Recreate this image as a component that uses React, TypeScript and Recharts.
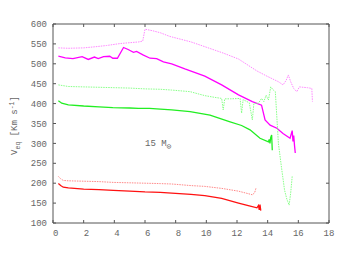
import React from 'react';
import { LineChart, Line, XAxis, YAxis, ReferenceDot } from 'recharts';

// Magenta, rotating (dotted, upper) and solid
const magDotT = [0.35, 1, 2, 2.8, 3.5, 4.4, 5, 5.6, 5.85, 6.0, 6.5, 7, 7.6, 8.3, 9, 9.9, 10.5, 11.1, 12.1, 13.3, 14.0, 14.7, 15.0, 15.2, 15.35, 15.5, 15.7, 15.9, 16.07, 16.3, 16.6, 16.88, 16.92];
const magDotV = [540, 539, 540, 543, 546, 551, 553, 555, 557, 587, 583, 578, 569, 562, 555, 543, 535, 527, 512, 482, 468, 455, 447, 458, 472, 455, 438, 430, 442, 441, 440, 438, 405];

const magT = [0.35, 0.8, 1.3, 1.9, 2.3, 2.7, 2.95, 3.3, 3.7, 3.9, 4.2, 4.6, 4.9, 5.25, 5.45, 5.9, 6.33, 6.76, 7.2, 7.74, 8.6, 9.9, 11.0, 12.1, 13.0, 13.6, 13.83, 14.16, 14.6, 15.0, 15.46, 15.6, 15.65, 15.7, 15.75, 15.8];
const magV = [519, 515, 513, 518, 511, 517, 513, 518, 519, 514, 514, 541, 536, 529, 531, 522, 514, 513, 505, 500, 487, 469, 447, 422, 405, 396, 359, 346, 338, 325, 313, 332, 305, 320, 295, 276];

// Green
const grnDotT = [0.35, 1, 2, 3, 4, 5, 6, 7, 7.74, 8.94, 9.9, 10.5, 11.0, 11.1, 11.2, 11.6, 12.2, 12.3, 12.4, 12.8, 13.0, 13.1, 13.4, 13.6, 13.75, 13.9, 14.05, 14.2, 14.37, 14.5, 14.7, 14.9, 15.1, 15.25, 15.4, 15.5, 15.6];
const grnDotV = [447, 443, 442, 441, 440, 439, 437, 436, 434, 430, 420, 416, 413, 384, 412, 412, 413, 376, 410, 402, 359, 400, 401, 413, 405, 421, 409, 442, 434, 430, 300, 240, 183, 160, 145, 175, 217];

const grnT = [0.35, 0.57, 1, 2, 3, 3.9, 5, 5.57, 6.3, 7, 7.74, 8.94, 10.24, 11.5, 12.3, 12.85, 13.5, 14.05, 14.1, 14.15, 14.2, 14.26, 14.3];
const grnV = [407, 401, 397, 394, 392, 390, 389, 388, 388, 386, 384, 380, 371, 355, 345, 334, 313, 304, 310, 300, 315, 321, 283];

// Red
const redDotT = [0.35, 0.5, 0.67, 1, 2, 3, 3.93, 5, 6, 7, 7.74, 9, 9.9, 11, 12.1, 12.6, 13.0, 13.15, 13.25];
const redDotV = [217, 211, 207, 206, 205, 204, 202, 201, 200, 199, 198, 194, 192, 187, 180, 175, 171, 176, 189];

const redT = [0.35, 0.5, 0.67, 1, 2, 3, 3.93, 5, 6, 7, 7.74, 9, 9.9, 11, 12.1, 12.8, 13.3, 13.4, 13.45, 13.5, 13.55];
const redV = [199, 194, 190, 188, 185, 184, 182, 180, 178, 177, 175, 172, 169, 162, 150, 143, 138, 144, 133, 146, 131];

const xTicks = [0, 2, 4, 6, 8, 10, 12, 14, 16, 18];
const yTicks = [100, 150, 200, 250, 300, 350, 400, 450, 500, 550, 600];

const toData = (t: number[], v: number[]) => t.map((x, i) => ({ t: x, v: v[i] }));

const series = [
  { name: 'magDot', data: toData(magDotT, magDotV), color: '#ff88ff', dash: '1.5 1', w: 1 },
  { name: 'mag', data: toData(magT, magV), color: '#ff00ff', dash: undefined, w: 1.3 },
  { name: 'grnDot', data: toData(grnDotT, grnDotV), color: '#88ff88', dash: '1.5 1', w: 1 },
  { name: 'grn', data: toData(grnT, grnV), color: '#22ee22', dash: undefined, w: 1.3 },
  { name: 'redDot', data: toData(redDotT, redDotV), color: '#ff8888', dash: '1.5 1', w: 1 },
  { name: 'red', data: toData(redT, redV), color: '#ff1111', dash: undefined, w: 1.3 },
];

const FONT = 'Liberation Mono, DejaVu Sans Mono, monospace';
const TXT = '#666';
const AX = '#555';

const BottomTick = (props: any) => {
  const { x, y, payload } = props;
  const s = String(payload.value);
  return (
    <text x={x} y={y} dy="0.71em" dx={s.length === 1 ? 2.7 : 0} textAnchor="middle" fontFamily={FONT} fontSize={9} fill={TXT}>
      {s}
    </text>
  );
};

const NoTick = () => <g />;

const YLabel = (props: any) => {
  const vb = props.viewBox || { x: 0, y: 0, width: 0, height: 0 };
  const x = vb.x + 4;
  const y = vb.y + vb.height / 2 + 2;
  return (
    <text x={x} y={y} transform={`rotate(-90, ${x}, ${y})`} textAnchor="middle" fontFamily={FONT} fontSize={9} fill={TXT}>
      V<tspan dy={2.5} fontSize={6.5}>eq</tspan>
      <tspan dy={-2.5}> [Km s</tspan>
      <tspan dy={-3.5} fontSize={6.5}>-1</tspan>
      <tspan dy={3.5}>]</tspan>
    </text>
  );
};

const Annot = (props: any) => {
  const vb = props.viewBox || { x: 0, y: 0 };
  const x = vb.x;
  const y = vb.y + 3;
  return (
    <text x={x} y={y} fontFamily={FONT} fontSize={9} fill={TXT}>
      15 M<tspan dy={3} fontSize={8}>⊙</tspan>
    </text>
  );
};

export default function App() {
  return (
    <div style={{ position: 'absolute', left: 0, top: 0, width: 344, height: 266, background: '#fff' }}>
      <LineChart width={344} height={266} margin={{ top: 23, right: 14, bottom: 13, left: 13 }}>
        <XAxis
          xAxisId="b"
          type="number"
          dataKey="t"
          domain={[0, 18]}
          ticks={xTicks}
          height={30}
          stroke={AX}
          tickSize={-3}
          tickMargin={10}
          tick={<BottomTick />}
          allowDataOverflow
        />
        <XAxis
          xAxisId="top"
          orientation="top"
          type="number"
          dataKey="t"
          domain={[0, 18]}
          ticks={xTicks}
          height={1}
          stroke={AX}
          tickSize={-3}
          tick={<NoTick />}
          allowDataOverflow
        />
        <YAxis
          yAxisId="l"
          type="number"
          domain={[100, 600]}
          ticks={yTicks}
          width={40}
          stroke={AX}
          tickSize={-3}
          tickMargin={9}
          tick={{ fontFamily: FONT, fontSize: 9, fill: TXT }}
          label={{ content: YLabel }}
          allowDataOverflow
        />
        <YAxis
          yAxisId="r"
          orientation="right"
          type="number"
          domain={[100, 600]}
          ticks={yTicks}
          width={1}
          stroke={AX}
          tickSize={-3}
          tick={<NoTick />}
          allowDataOverflow
        />
        {series.map((s) => (
          <Line
            key={s.name}
            xAxisId="b"
            yAxisId="l"
            data={s.data}
            dataKey="v"
            type="linear"
            stroke={s.color}
            strokeWidth={s.w}
            strokeDasharray={s.dash}
            dot={false}
            activeDot={false}
            isAnimationActive={false}
          />
        ))}
        <ReferenceDot xAxisId="b" yAxisId="l" x={6} y={300} r={0} fill="none" stroke="none" label={{ content: Annot }} />
      </LineChart>
    </div>
  );
}
